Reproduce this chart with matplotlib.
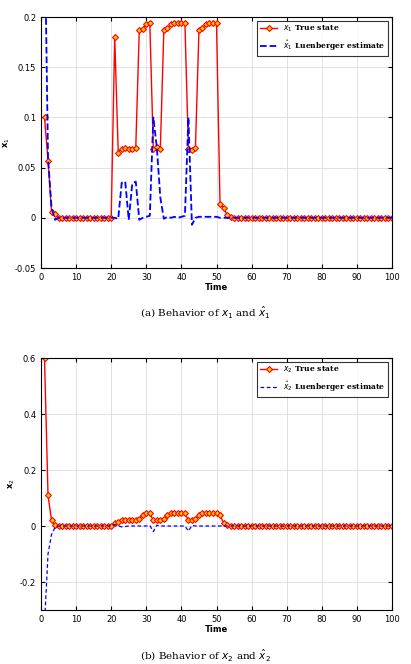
import numpy as np
import matplotlib
matplotlib.use("Agg")
import matplotlib.pyplot as plt

t = list(range(1, 101))
x1 = [0.1, 0.057, 0.006, 0.004] + [0]*16 + [0.18, 0.065, 0.069, 0.07, 0.069, 0.069, 0.07,
      0.187, 0.188, 0.193, 0.194, 0.069, 0.071, 0.069, 0.187, 0.189, 0.193, 0.194, 0.194, 0.194, 0.194,
      0.069, 0.068, 0.07, 0.187, 0.189, 0.193, 0.194, 0.194, 0.194, 0.014, 0.01, 0.003, 0.001] + [0]*46
x1h = [0.3, 0.06, 0.01, -0.002] + [0]*16 + [0, -0.001, 0.035, 0.036, -0.002, 0.034, 0.036, -0.002,
       0, 0.001, 0.002, 0.1, 0.07, 0.02, -0.001, 0.001, 0, 0.001, 0, 0.001, 0.002,
       0.1, -0.007, 0, 0.001, 0.001, 0.001, 0.001, 0.001, 0.001, 0, 0, 0, 0] + [0]*46
x2 = [0.6, 0.11, 0.02, 0.003] + [0]*16 + [0.01, 0.015, 0.02, 0.02, 0.02, 0.02, 0.02, 0.025, 0.04,
      0.045, 0.045, 0.02, 0.02, 0.02, 0.025, 0.04, 0.045, 0.045, 0.045, 0.045, 0.045, 0.02, 0.02,
      0.025, 0.04, 0.045, 0.045, 0.045, 0.045, 0.045, 0.04, 0.01, 0.003, 0.001] + [0]*46
x2h = [-0.35, -0.1, -0.03, -0.005] + [0]*16 + [0.005, 0, -0.003, -0.002, 0, 0, 0, 0, 0, 0, 0.002,
       -0.02, 0.003, 0, 0, 0, 0, 0, 0, 0, 0, -0.018, 0.002, 0, 0, 0, 0, 0, 0, 0, 0, 0, 0, 0] + [0]*46

fig = plt.figure(figsize=(4.11, 6.64), dpi=100)
W, H = 411, 664
panels = [
    (x1, x1h, r'$x_1$ True state', r'$\hat{x}_1$ Luenberger estimate', 'x$_1$', (-0.05, 0.2),
     [-0.05, 0, 0.05, 0.1, 0.15, 0.2], 17, 268, r'(a) Behavior of $x_1$ and $\hat{x}_1$', 312, '--', 1.3),
    (x2, x2h, r'$x_2$ True state', r'$\hat{x}_2$ Luenberger estimate', 'x$_2$', (-0.3, 0.6),
     [-0.2, 0, 0.2, 0.4, 0.6], 358, 610, r'(b) Behavior of $x_2$ and $\hat{x}_2$', 655, (0, (3, 2)), 0.9),
]
for y, yh, l1, l2, yl, ylim, yt, top, bot, cap, capy, ls, lw in panels:
    ax = fig.add_axes([41/W, 1-bot/H, (392-41)/W, (bot-top)/H])
    ax.plot(t, y, '-', color='red', lw=1.0, marker='D', ms=3, mfc='#ffcc00', mec='red', mew=0.8, label=l1)
    ax.plot(t, yh, color='blue', ls=ls, lw=lw, label=l2)
    ax.set_xlim(0, 100); ax.set_ylim(*ylim)
    ax.set_xticks(range(0, 101, 10)); ax.set_yticks(yt)
    ax.set_yticklabels([f'{v:g}' for v in yt])
    ax.tick_params(labelsize=6, direction='in', length=3, top=True, right=True)
    ax.grid(True, color='#dddddd', lw=0.6)
    ax.set_xlabel('Time', fontsize=6, fontweight='bold', labelpad=1)
    ax.set_ylabel(yl, fontsize=6, fontweight='bold', labelpad=2)
    leg = ax.legend(loc='upper right', fontsize=5.5, fancybox=False, edgecolor='black',
                    prop={'weight': 'bold', 'size': 5.5, 'family': 'serif'}, handlelength=2.2)
    leg.get_frame().set_linewidth(0.8)
    fig.text(0.5, 1-capy/H, cap, ha='center', va='center', fontsize=7.5, family='serif')

fig.savefig('out.png', dpi=100)
